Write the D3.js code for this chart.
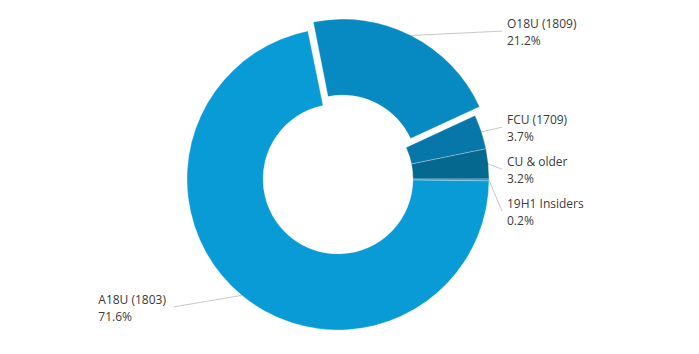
<!DOCTYPE html>
<html lang="en">
<head>
    <meta charset="UTF-8">
    <title>Windows 10 version share</title>
    <script src="https://d3js.org/d3.v7.min.js"></script>
    <style>
        body { margin: 0; background: #fff; }
        .lbl { font-family: "Open Sans", sans-serif; font-size: 12px; fill: #3a3a3a; }
        .leader { fill: none; stroke: #c8c8c8; stroke-width: 1; }
    </style>
</head>
<body>
    <svg width="699" height="354"></svg>
    <script>
        // Podaci
        const names = ["O18U (1809)", "FCU (1709)", "CU & older", "19H1 Insiders", "A18U (1803)"];
        const shares = [21.2, 3.7, 3.2, 0.2, 71.6];
        const colors = ["#0789c1", "#0677a8", "#05688f", "#0a9ad4", "#089bd6"];
        const exploded = ["O18U (1809)"];

        // Postavke
        const cx = 338, cy = 179;
        const outerR = 151, innerR = 75;
        const explodeBy = 10;
        const labelR = 166;
        const colGap = 164;
        const minGap = 42;

        const svg = d3.select("svg");
        const g = svg.append("g").attr("transform", "translate(" + cx + "," + cy + ")");

        const toRad = Math.PI / 180;
        const before = d3.sum(shares.slice(0, 3));
        const start = (90 - before * 3.6) * toRad;

        const pie = d3.pie()
            .value(d => d.v)
            .sort(null)
            .startAngle(start)
            .endAngle(start + 2 * Math.PI * d3.sum(shares) / 100);

        const arcs = pie(names.map((n, i) => ({ name: n, v: shares[i], color: colors[i] })));

        const arc = d3.arc().innerRadius(innerR).outerRadius(outerR);

        const offset = d => {
            if (!exploded.includes(d.data.name)) return [0, 0];
            const m = (d.startAngle + d.endAngle) / 2;
            return [Math.sin(m) * explodeBy, -Math.cos(m) * explodeBy];
        };

        // Oznake - izračun položaja
        const labels = arcs.map(d => {
            const m = (d.startAngle + d.endAngle) / 2;
            const o = offset(d);
            const right = Math.sin(m) >= 0;
            return {
                d: d,
                right: right,
                px: Math.sin(m) * outerR + o[0],
                py: -Math.cos(m) * outerR + o[1],
                y: -Math.cos(m) * labelR
            };
        });

        // razmakni oznake na desnoj strani odozgo prema dolje
        const rightLabels = labels.filter(l => l.right).sort((a, b) => a.y - b.y);
        for (let i = 1; i < rightLabels.length; i++) {
            if (rightLabels[i].y < rightLabels[i - 1].y + minGap) {
                rightLabels[i].y = rightLabels[i - 1].y + minGap;
            }
        }

        // Linije
        g.selectAll(".leader")
            .data(labels)
            .enter().append("polyline")
            .attr("class", "leader")
            .attr("points", l => {
                const ex = l.right ? colGap : -colGap;
                return l.px + "," + l.py + " " + ex + "," + l.y;
            });

        // Isječci
        g.selectAll(".slice")
            .data(arcs)
            .enter().append("path")
            .attr("class", "slice")
            .attr("d", arc)
            .attr("transform", d => "translate(" + offset(d).join(",") + ")")
            .attr("fill", d => d.data.color)
            .attr("stroke", "rgba(255,255,255,0.35)")
            .attr("stroke-width", 0.8);

        // Tekst oznaka
        labels.forEach(l => {
            const t = g.append("text").attr("class", "lbl");
            const l1 = t.append("tspan").text(l.d.data.name);
            const l2 = t.append("tspan").text(l.d.data.v.toFixed(1) + "%");
            let x;
            if (l.right) {
                x = colGap + 5;
            } else {
                const w = Math.max(l1.node().getComputedTextLength(), l2.node().getComputedTextLength());
                x = -colGap - 8 - w;
            }
            l1.attr("x", x).attr("y", l.y - 3);
            l2.attr("x", x).attr("y", l.y + 14);
        });
    </script>
</body>
</html>
